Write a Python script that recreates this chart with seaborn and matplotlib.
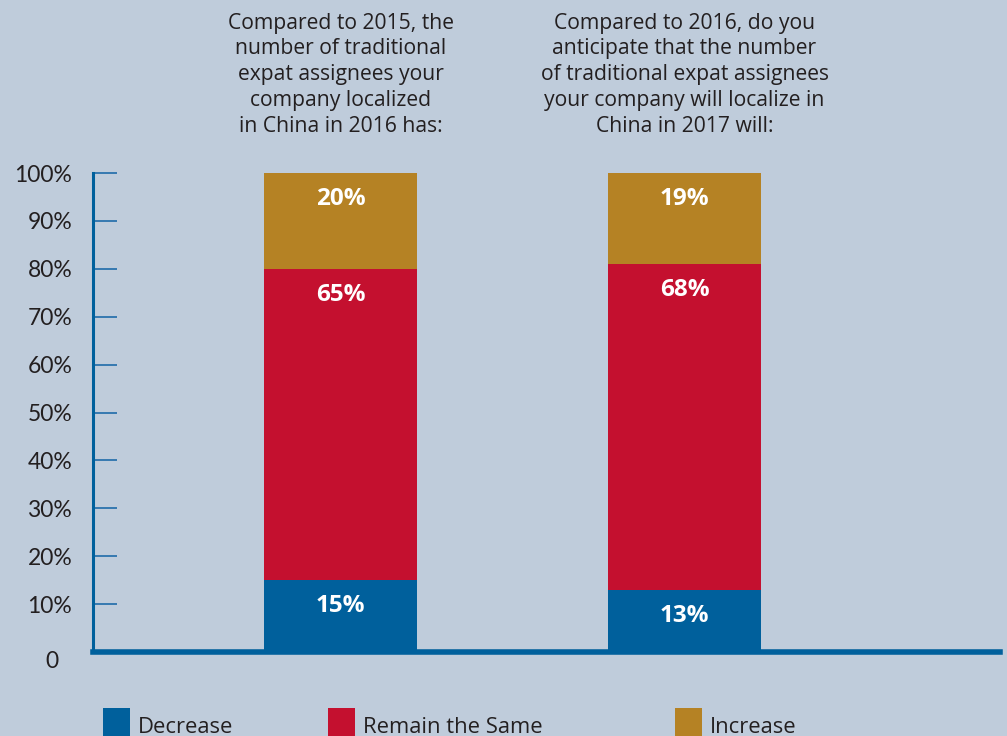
import matplotlib
matplotlib.use("Agg")
import matplotlib.pyplot as plt
from matplotlib.patches import Rectangle
import seaborn as sns
import pandas as pd
import numpy as np

# Survey answers, share of respondents (%)
questions = [
    "Compared to 2015, the\nnumber of traditional\nexpat assignees your\ncompany localized\nin China in 2016 has:",
    "Compared to 2016, do you\nanticipate that the number\nof traditional expat assignees\nyour company will localize in\nChina in 2017 will:",
]
series = ["Decrease", "Remain the Same", "Increase"]
decrease = [15, 13]
remain = [65, 68]
increase = [20, 19]
yticks = [0, 10, 20, 30, 40, 50, 60, 70, 80, 90, 100]
ytick_labels = ["0", "10%", "20%", "30%", "40%", "50%", "60%", "70%", "80%", "90%", "100%"]

BG = "#bfccdb"
BLUE = "#00609c"
RED = "#c4102f"
GOLD = "#b58224"
TEXT = "#231f20"
colors = [BLUE, RED, GOLD]

sns.set_theme(style="white")
plt.rcParams["font.family"] = ["Open Sans", "DejaVu Sans"]

W, H = 1007, 736
fig = plt.figure(figsize=(W / 100, H / 100), dpi=100, facecolor=BG)
ax_left, ax_right, ax_bottom = 93, 1000, 652
px_per_unit = 4.79
ymax = 105
ax_top = ax_bottom - ymax * px_per_unit
ax = fig.add_axes([ax_left / W, (H - ax_bottom) / H, (ax_right - ax_left) / W,
                   (ax_bottom - ax_top) / H])
ax.set_facecolor(BG)

# Stacked bars: draw cumulative totals from the top segment down
df = pd.DataFrame({"q": ["q1", "q2"], "Decrease": decrease,
                   "Remain the Same": remain, "Increase": increase})
cum = df[series].cumsum(axis=1)
bar_w = 0.445
for name, col in reversed(list(zip(series, colors))):
    sns.barplot(x=df["q"], y=cum[name], color=col, width=bar_w,
                saturation=1, ax=ax, edgecolor="none", linewidth=0)

# Value labels near the top of each segment
for i in range(len(df)):
    for name in series:
        top = cum.loc[i, name]
        ax.text(i, top - 5.4, f"{df.loc[i, name]}%", ha="center", va="center",
                color="white", fontsize=17.5, fontweight="bold",
                family=["Open Sans", "DejaVu Sans"])

# Question headings above the bars
for i, q in enumerate(questions):
    ax.text(i, 133.5, q, ha="center", va="top", color=TEXT,
            fontsize=15.2, linespacing=1.3, transform=ax.transData,
            clip_on=False)

ax.set_xlim(-0.7195, 1.917)
ax.set_ylim(0, ymax)
ax.set_xlabel("")
ax.set_ylabel("")
ax.set_xticks([])
ax.set_yticks(yticks[1:])
ax.set_yticklabels(ytick_labels[1:], fontsize=16.5, color=TEXT,
                   family=["Lato", "DejaVu Sans"])
ax.tick_params(axis="y", direction="in", length=17, width=1.3, color="#2b73ad",
               pad=15, left=True)
ax.text(-0.7195 - 0.1, 0.3, "0", ha="right", va="top", fontsize=16.5,
        color=TEXT, family=["Lato", "DejaVu Sans"], clip_on=False)

for s in ["top", "right"]:
    ax.spines[s].set_visible(False)
ax.spines["left"].set_color(BLUE)
ax.spines["left"].set_linewidth(2.2)
ax.spines["left"].set_bounds(0, 100)
ax.spines["bottom"].set_color(BLUE)
ax.spines["bottom"].set_linewidth(4)
ax.spines["bottom"].set_zorder(5)

# Legend along the bottom edge
legend_x = [103, 328, 675]
for x, name, col in zip(legend_x, series, colors):
    fig.patches.append(Rectangle((x / W, 0), 27 / W, 28 / H, transform=fig.transFigure,
                                 facecolor=col, edgecolor="none"))
    fig.text((x + 35) / W, 3 / H, name, ha="left", va="baseline", fontsize=15.8,
             color=TEXT)

fig.savefig("out.png", dpi=100, facecolor=BG)
